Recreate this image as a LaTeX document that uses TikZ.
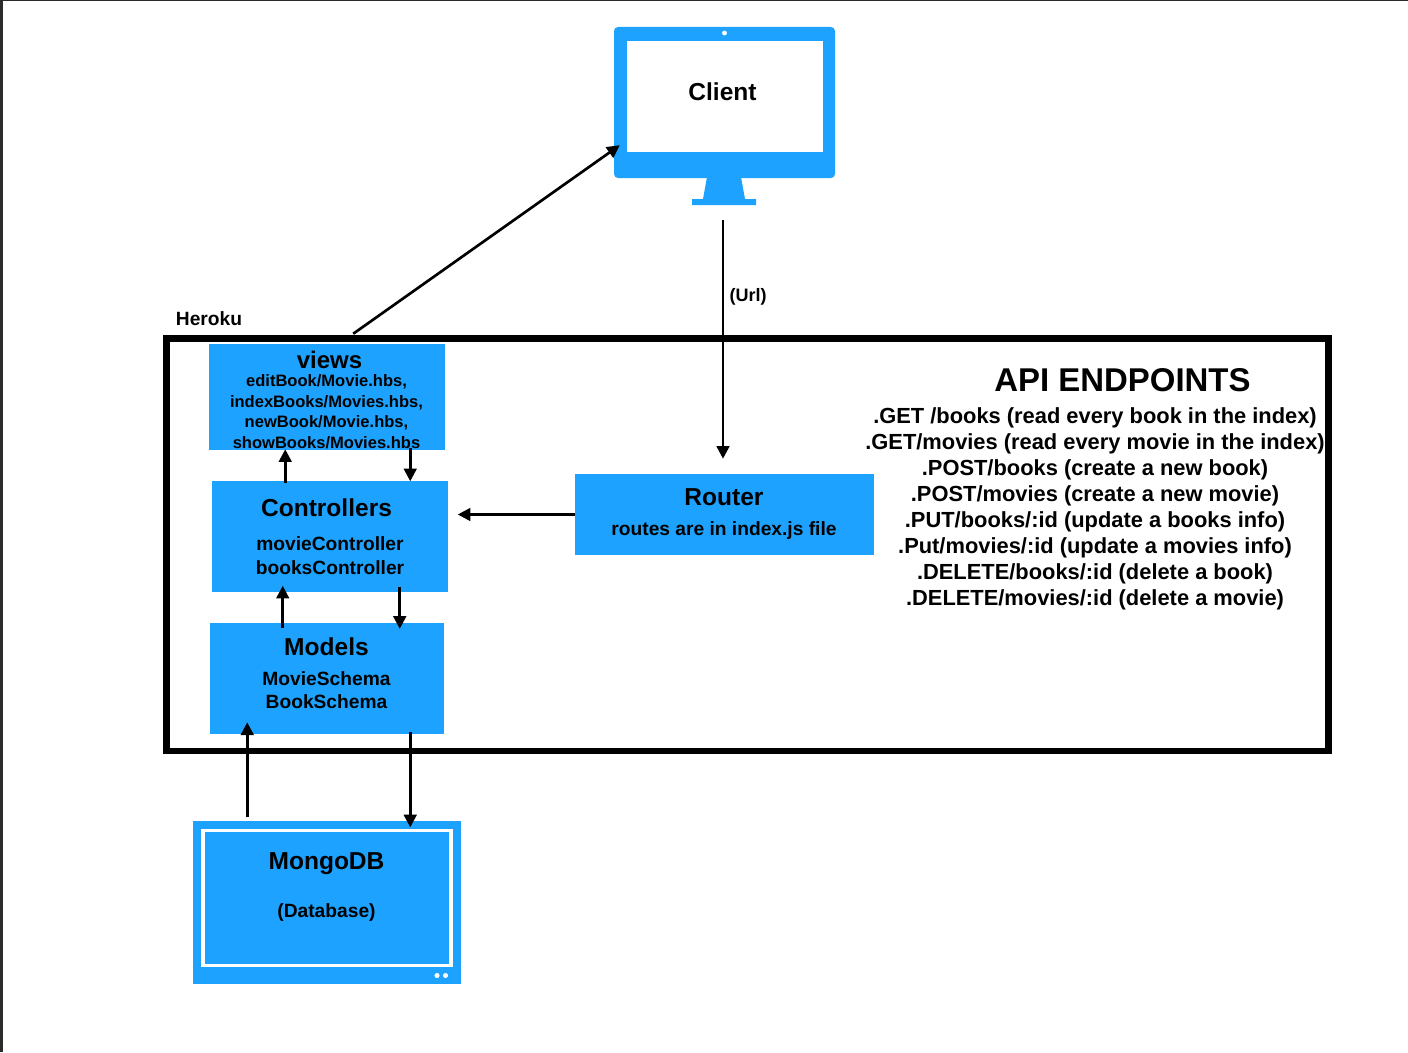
\documentclass[tikz,border=0pt]{standalone}
\usepackage{fontspec}
\setmainfont{Liberation Sans}
\usepackage{xcolor}
\usetikzlibrary{positioning,arrows.meta,calc}
\definecolor{appblue}{HTML}{1DA3FF}
\definecolor{edgegray}{HTML}{2B2B2B}

\begin{document}
\begin{tikzpicture}[
   x=0.75pt, y=-0.75pt,
   box/.style 2 args = {fill=appblue, inner sep=0pt, minimum width=#1*0.75pt,
                 minimum height=#2*0.75pt},
   lbl/.style = {inner sep=0pt, align=center, font=\bfseries\fontsize{14.4}{18}\selectfont},
   title/.style = {inner sep=0pt, align=center, font=\bfseries\fontsize{18.4}{22}\selectfont},
   arr/.style = {-{Triangle[width=9.5pt,length=9.5pt]}, line width=2pt}
]
\useasboundingbox (0,0) rectangle (1408,1052);
\fill[edgegray] (0,0) rectangle (1408,1);
\fill[edgegray] (0,0) rectangle (2.5,1052);

% client monitor
\fill[appblue] (707,177) -- (741,177) -- (745,199) -- (756,199) -- (756,205)
   -- (692,205) -- (692,199) -- (703,199) -- cycle;
\node[box={221}{151}, rounded corners=3pt] (monitor) at (724.5,102.5) {};
\node[box={196}{111}, fill=white] (client) at (724.5,96.5) {};
\fill[white] (724.5,33) circle (1.8pt);
\node[title] (clientlbl) at (722.5,91.5) {Client};

% heroku frame
\node[draw, line width=4.9pt, inner sep=0pt, minimum width=1162*0.75pt,
      minimum height=412.5*0.75pt] (heroku) at (747.5,544.75) {};
\node[lbl] (herokulbl) at (209,318.5) {Heroku};

\node[box={236}{106}]                              (views)  at (327,397) {};
\node[box={236}{111}, below=30*0.75pt of views, xshift=2.25pt]  (ctrl)   {};
\node[box={234}{111}, below=31*0.75pt of ctrl, xshift=-2.25pt]  (models) {};
\node[box={299}{81}]                               (router) at (724.5,514.5) {};
\node[box={268}{163}, below=86*0.75pt of models]   (mongo)  {};
\node[draw=white, line width=2.3pt, inner sep=0pt, minimum width=248*0.75pt,
      minimum height=134.5*0.75pt] (mongoin) at (327,898) {};
\fill[white] (437,975.5) circle (1.9pt) (445.5,975.5) circle (1.9pt);

\node[title, font=\bfseries\fontsize{18}{22}\selectfont] (viewslbl) at (329.5,360) {views};
\node[lbl, font=\bfseries\fontsize{12.4}{15.4}\selectfont] (viewstxt) at (326.5,411.5)
   {editBook/Movie.hbs,\\indexBooks/Movies.hbs,\\newBook/Movie.hbs,\\showBooks/Movies.hbs};
\node[title] (ctrllbl) at (326.5,508) {Controllers};
\node[lbl] (ctrltxt) at (330,555.5) {movieController\\booksController};
\node[title] (modelslbl) at (326.5,647) {Models};
\node[lbl, font=\bfseries\fontsize{14.4}{17.3}\selectfont] (modelstxt) at (326.5,690)
   {MovieSchema\\BookSchema};
\node[title] (routerlbl) at (724,497) {Router};
\node[lbl] (routertxt) at (724,530.5) {routes are in index.js file};
\node[title] (mongolbl) at (326.5,863.5) {MongoDB};
\node[lbl] (mongotxt) at (326.5,912.5) {(Database)};

\node[title, font=\bfseries\fontsize{24.7}{30}\selectfont] (apilbl) at (1122.5,380) {API ENDPOINTS};
\node[lbl, font=\bfseries\fontsize{16.4}{19.5}\selectfont] (apitxt) at (1095,509)
   {.GET /books (read every book in the index)\\
    .GET/movies (read every movie in the index)\\
    .POST/books (create a new book)\\
    .POST/movies (create a new movie)\\
    .PUT/books/:id (update a books info)\\
    .Put/movies/:id (update a movies info)\\
    .DELETE/books/:id (delete a book)\\
    .DELETE/movies/:id (delete a movie)};

\draw[arr] ($(heroku.north west)+(190,-1.5)$) -- ($(monitor.south west)+(6,-33)$);
\draw[arr] ($(client.south)+(-1.5,68)$) -- node[lbl, right=4pt, pos=0.32, font=\bfseries\fontsize{13.5}{16}\selectfont] (urllbl) {(Url)} ($(router.north)+(-1.5,-15)$);
\draw[arr] (router.west) -- ++(-117,0) coordinate (ctrlin);
\draw[arr] ($(ctrl.north west)+(73.5,3)$) -- ($(views.south west)+(76.5,-1)$);
\draw[arr] ($(views.south west)+(201.5,-2)$) -- ($(ctrl.north west)+(198.5,1)$);
\draw[arr] ($(models.north west)+(73,5)$) -- ($(ctrl.south west)+(71,-6)$);
\draw[arr] ($(ctrl.south west)+(188,-5)$) -- ($(models.north west)+(190,6)$);
\draw[arr] ($(mongo.north west)+(54.5,-3)$) -- ($(models.south west)+(37.5,-12)$);
\draw[arr] ($(models.south west)+(200.5,-2)$) -- ($(mongo.north west)+(217.5,7)$);
\end{tikzpicture}
\end{document}
